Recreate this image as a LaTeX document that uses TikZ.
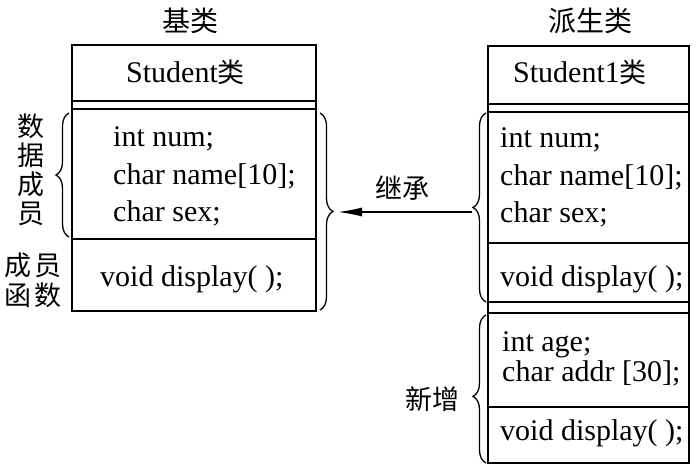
\documentclass[tikz,border=0pt]{standalone}
\usepackage{fontspec}
\setmainfont{Liberation Serif}
\newfontfamily\cjk{Noto Sans CJK SC}
\usetikzlibrary{decorations.pathreplacing,arrows.meta}
\begin{document}
\begin{tikzpicture}[x=1pt,y=-1pt,
  boxline/.style={draw,line width=1.6pt},
  code/.style={anchor=base west,inner sep=0pt,font=\fontsize{30}{36}\selectfont},
  zh/.style={inner sep=0pt,font=\cjk\fontsize{27}{29}\selectfont},
  bracestyle/.style={decorate,decoration={brace,amplitude=13pt},line width=1.3pt},
]
\useasboundingbox (0,0) rectangle (696,470);
% left box
\draw[boxline] (72,45) rectangle (316,311);
\draw[boxline] (72,101) -- (316,101);
\draw[boxline] (72,109) -- (316,109);
\draw[boxline] (72,239) -- (316,239);
% right box
\draw[boxline] (488,46) rectangle (689,463);
\draw[boxline] (488,104) -- (689,104);
\draw[boxline] (488,112) -- (689,112);
\draw[boxline] (488,243) -- (689,243);
\draw[boxline] (488,302) -- (689,302);
\draw[boxline] (488,313) -- (689,313);
\draw[boxline] (488,407) -- (689,407);
% titles
\node[zh,font=\cjk\fontsize{28}{30}\selectfont] (t1) at (190,21) {基类};
\node[zh,font=\cjk\fontsize{28}{30}\selectfont] (t2) at (590,21) {派生类};
% left texts
\node[code] (s1) at (126,83) {Student{\cjk\fontsize{27}{30}\selectfont 类}};
\node[code] (a1) at (113,147) {int num;};
\node[code] (a2) at (113,185) {char name[10];};
\node[code] (a3) at (113,222) {char sex;};
\node[code] (a4) at (100,287) {void display( );};
% right texts
\node[code] (s2) at (513,83) {Student1{\cjk\fontsize{27}{30}\selectfont 类}};
\node[code] (b1) at (500,148) {int num;};
\node[code] (b2) at (500,186) {char name[10];};
\node[code] (b3) at (500,223) {char sex;};
\node[code] (b4) at (500,287) {void display( );};
\node[code] (b5) at (502,352) {int age;};
\node[code] (b6) at (502,381) {char addr [30];};
\node[code] (b7) at (500,440) {void display( );};
% side labels
\node[zh,align=center] (l1) at (31,170) {数\\据\\成\\员};
\node[zh,align=center,font=\cjk\fontsize{27}{30}\selectfont] (l2) at (33,280) {成\hspace{3pt}员\\函\hspace{3pt}数};
\node[zh] (l3) at (432,399) {新增};
\node[zh] (l4) at (402,188) {继承};
% braces
\draw[bracestyle] (69,237) -- (69,113);
\draw[bracestyle] (320,113) -- (320,310);
\draw[bracestyle] (486,302) -- (486,113);
\draw[bracestyle,decoration={aspect=0.45}] (486,463) -- (486,315);
% arrow
\coordinate (from) at (472,212);
\coordinate (to) at (338,212);
\draw[line width=1.3pt,-{Latex[length=24pt,width=9pt]}] (from) -- (to);
\end{tikzpicture}
\end{document}
